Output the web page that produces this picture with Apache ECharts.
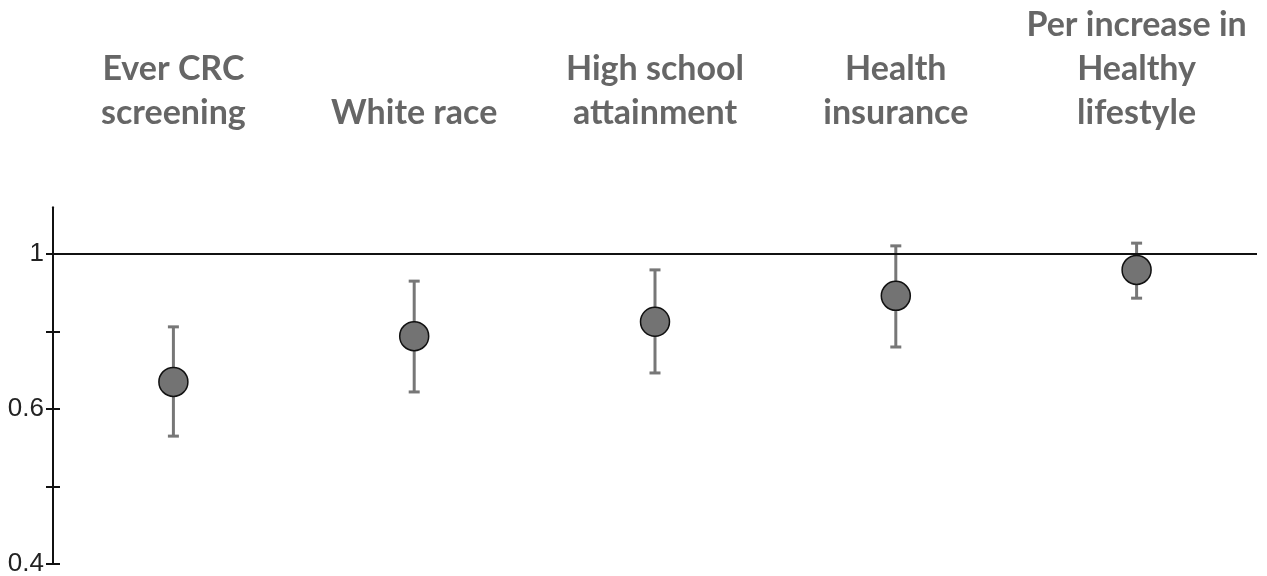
<!DOCTYPE html>
<html>
<head>
<meta charset="utf-8">
<script src="https://cdn.jsdelivr.net/npm/echarts@6/dist/echarts.min.js"></script>
<style>
  html, body { margin: 0; padding: 0; background: #fff; }
  #chart { width: 1267px; height: 576px; }
</style>
</head>
<body>
<div id="chart"></div>
<script>
// categories shown above the plot
const categories = [
  'Ever CRC\nscreening',
  'White race',
  'High school\nattainment',
  'Health\ninsurance',
  'Per increase in\nHealthy\nlifestyle',
];
// odds ratios and 95% CI
const estimates = [0.67, 0.788, 0.825, 0.892, 0.959];
const ciLow = [0.565, 0.644, 0.693, 0.76, 0.886];
const ciHigh = [0.812, 0.93, 0.959, 1.021, 1.028];
// axis ticks are evenly spaced: 0.4, 0.5, 0.6, 0.8, 1
const tickValues = [0.4, 0.5, 0.6, 0.8, 1];
const tickLabels = ['0.4', '', '0.6', '', '1'];

// piecewise scale of the original figure (0.1 per step below 0.6, 0.2 above)
function toAxis(v) {
  return v <= 0.6 ? (v - 0.4) / 0.1 : 2 + (v - 0.6) / 0.2;
}

const chart = echarts.init(document.getElementById('chart'));

const tickPos = tickValues.map(toAxis);
const yBase = {
  type: 'value',
  min: 0,
  max: 4.6,
  interval: 1,
  splitLine: { show: false },
  axisLine: { show: true, lineStyle: { color: '#111', width: 2 } },
};

const option = {
  animation: false,
  grid: {
    left: 53, right: 10, top: 207.5, bottom: 12,
    containLabel: false, outerBoundsMode: 'none',
  },
  xAxis: {
    type: 'category',
    position: 'top',
    data: categories,
    boundaryGap: true,
    axisLine: { show: false },
    axisTick: { show: false },
    axisLabel: {
      interval: 0,
      margin: 72,
      verticalAlign: 'bottom',
      fontFamily: 'Lato',
      fontWeight: 'bold',
      fontSize: 34,
      lineHeight: 44,
      color: '#666',
    },
  },
  yAxis: [
    {
      ...yBase,
      axisTick: { show: true, length: 7, customValues: tickPos, lineStyle: { color: '#111', width: 2 } },
      axisLabel: {
        margin: 9,
        customValues: tickPos,
        fontFamily: 'Liberation Sans',
        fontSize: 26,
        color: '#222',
        formatter: (v) => tickLabels[Math.round(v)] ?? '',
      },
    },
    {
      ...yBase,
      position: 'left',
      axisTick: { show: true, inside: true, length: 7, customValues: tickPos, lineStyle: { color: '#111', width: 2 } },
      axisLabel: { show: false },
    },
  ],
  series: [
    {
      type: 'custom',
      name: 'CI',
      data: categories.map((c, i) => [i, toAxis(ciLow[i]), toAxis(ciHigh[i])]),
      renderItem(params, api) {
        const lo = api.coord([api.value(0), api.value(1)]);
        const hi = api.coord([api.value(0), api.value(2)]);
        const cap = 5.5;
        const style = { stroke: '#777', lineWidth: 3 };
        return {
          type: 'group',
          children: [
            { type: 'line', shape: { x1: lo[0], y1: lo[1], x2: hi[0], y2: hi[1] }, style },
            { type: 'line', shape: { x1: lo[0] - cap, y1: lo[1], x2: lo[0] + cap, y2: lo[1] }, style },
            { type: 'line', shape: { x1: hi[0] - cap, y1: hi[1], x2: hi[0] + cap, y2: hi[1] }, style },
          ],
        };
      },
      markLine: {
        silent: true,
        symbol: 'none',
        label: { show: false },
        lineStyle: { color: '#111', width: 2, type: 'solid' },
        data: [{ yAxis: toAxis(tickValues[4]) }],
      },
      z: 2,
    },
    {
      type: 'scatter',
      name: 'OR',
      data: estimates.map((v, i) => [i, toAxis(v)]),
      symbolSize: 29,
      itemStyle: { color: '#737373', borderColor: '#111', borderWidth: 1.5, opacity: 1 },
      z: 3,
    },
  ],
};

chart.setOption(option);
</script>
</body>
</html>
